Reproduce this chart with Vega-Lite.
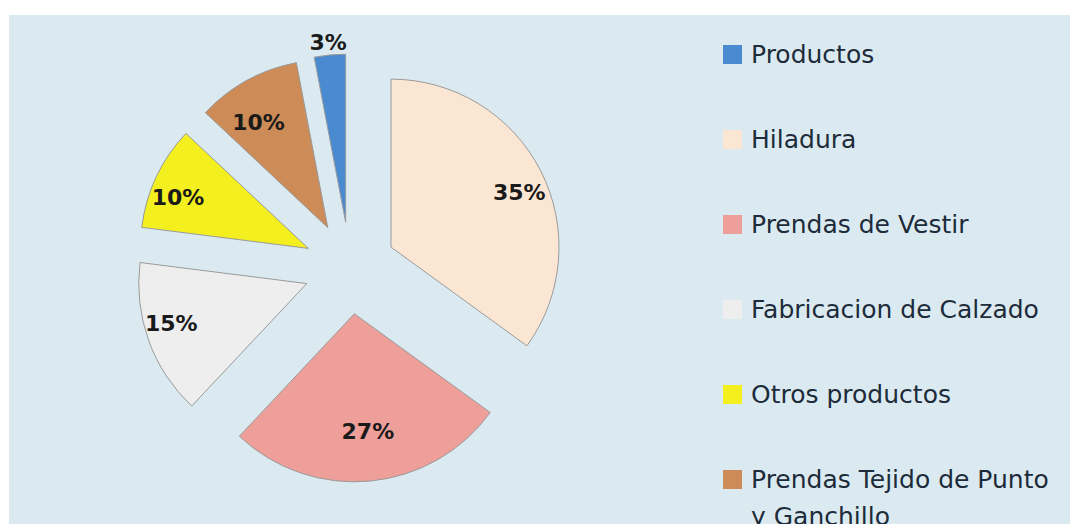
{
  "$schema": "https://vega.github.io/schema/vega-lite/v6.json",
  "width": 1061,
  "height": 509,
  "autosize": {"type": "none"},
  "padding": {"left": 9, "top": 15, "right": 0, "bottom": 0},
  "background": "white",
  "view": {"fill": "#dbeaf1", "stroke": null},
  "config": {
    "style": {"guide-label": {"lineHeight": 37}}
  },
  "data": {
    "values": [
      {"categoria": "Hiladura", "pct": 0.35, "orden": 1},
      {"categoria": "Prendas de Vestir", "pct": 0.27, "orden": 2},
      {"categoria": "Fabricacion de Calzado", "pct": 0.15, "orden": 3},
      {"categoria": "Otros productos", "pct": 0.10, "orden": 4},
      {"categoria": "Prendas Tejido de Punto y Ganchillo", "pct": 0.10, "orden": 5},
      {"categoria": "Productos", "pct": 0.03, "orden": 6}
    ]
  },
  "encoding": {
    "theta": {"field": "pct", "type": "quantitative", "stack": true},
    "order": {"field": "orden", "type": "quantitative", "sort": "ascending"},
    "color": {
      "field": "categoria",
      "type": "nominal",
      "scale": {
        "domain": ["Productos", "Hiladura", "Prendas de Vestir", "Fabricacion de Calzado", "Otros productos", "Prendas Tejido de Punto y Ganchillo"],
        "range": ["#4a8ad0", "#fbe6d4", "#ef9f9a", "#eeeeef", "#f4ef1f", "#cd8b57"]
      },
      "legend": {
        "title": null,
        "orient": "none",
        "legendX": 711,
        "legendY": 27,
        "symbolType": "square",
        "symbolSize": 361,
        "symbolStrokeWidth": 0,
        "labelFont": "DejaVu Sans",
        "labelFontSize": 25,
        "labelColor": "#1d2b3a",
        "labelOffset": 6,
        "rowPadding": 59,
        "labelLimit": 400,
        "labelExpr": "datum.label == 'Prendas Tejido de Punto y Ganchillo' ? ['Prendas Tejido de Punto', 'y Ganchillo'] : datum.label"
      }
    }
  },
  "layer": [
    {
      "mark": {
        "type": "arc",
        "outerRadius": 168,
        "x": {"expr": "341 + 46 * sin(scale('theta', (datum.pct_start + datum.pct_end) / 2))"},
        "y": {"expr": "253 - 46 * cos(scale('theta', (datum.pct_start + datum.pct_end) / 2))"},
        "stroke": "#9a9a9a",
        "strokeWidth": 1
      }
    },
    {
      "mark": {
        "type": "text",
        "radius": 0,
        "x": {"expr": "341 + (datum.pct < 0.05 ? 232 : 190) * sin(scale('theta', (datum.pct_start + datum.pct_end) / 2))"},
        "y": {"expr": "253 - (datum.pct < 0.05 ? 226 : 165) * cos(scale('theta', (datum.pct_start + datum.pct_end) / 2))"},
        "font": "DejaVu Sans",
        "fontSize": 22,
        "fontWeight": "bold"
      },
      "encoding": {
        "text": {"field": "pct", "type": "quantitative", "format": ".0%"},
        "color": {"value": "#1a1a1a"}
      }
    }
  ]
}
